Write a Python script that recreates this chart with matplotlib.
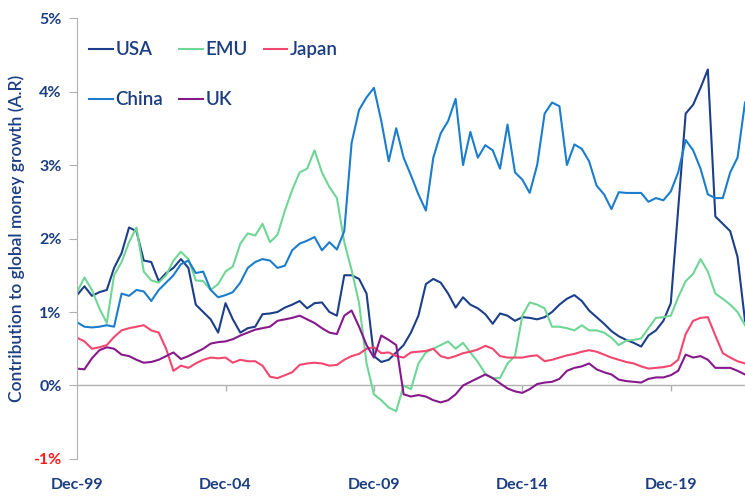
import numpy as np
import pandas as pd
import matplotlib
matplotlib.use("Agg")
import matplotlib.pyplot as plt

# quarterly readings, Dec-99 onwards (% contribution, A.R)
dates = pd.date_range("1999-12-01", periods=91, freq="3MS")

usa = [1.23, 1.35, 1.22, 1.27, 1.30, 1.60, 1.80, 2.15, 2.10, 1.70,
       1.68, 1.42, 1.53, 1.60, 1.72, 1.60, 1.10, 1.00, 0.90, 0.72,
       1.12, 0.90, 0.72, 0.78, 0.80, 0.97, 0.98, 1.00, 1.06, 1.10,
       1.15, 1.05, 1.12, 1.13, 1.00, 0.95, 1.50, 1.50, 1.45, 1.25,
       0.40, 0.32, 0.35, 0.45, 0.55, 0.72, 0.95, 1.38, 1.45, 1.40,
       1.25, 1.06, 1.20, 1.10, 1.05, 0.97, 0.84, 0.98, 0.95, 0.88,
       0.93, 0.92, 0.90, 0.93, 1.00, 1.10, 1.18, 1.23, 1.15, 1.02,
       0.93, 0.84, 0.74, 0.67, 0.62, 0.58, 0.53, 0.68, 0.75, 0.88,
       1.12, 2.40, 3.70, 3.82, 4.05, 4.30, 2.30, 2.20, 2.10, 1.75,
       0.88]
emu = [1.27, 1.47, 1.30, 1.05, 0.85, 1.50, 1.68, 1.95, 2.15, 1.55,
       1.43, 1.40, 1.50, 1.70, 1.82, 1.72, 1.43, 1.42, 1.30, 1.38,
       1.55, 1.62, 1.93, 2.07, 2.04, 2.20, 1.95, 2.05, 2.38, 2.66,
       2.90, 2.95, 3.20, 2.90, 2.70, 2.55, 1.95, 1.57, 1.12, 0.30,
       -0.12, -0.20, -0.30, -0.35, 0.00, -0.05, 0.30, 0.45, 0.50, 0.55,
       0.60, 0.50, 0.58, 0.45, 0.32, 0.16, 0.10, 0.10, 0.30, 0.40,
       0.95, 1.13, 1.10, 1.05, 0.80, 0.80, 0.78, 0.75, 0.82, 0.75,
       0.75, 0.72, 0.65, 0.55, 0.61, 0.62, 0.64, 0.78, 0.92, 0.93,
       0.95, 1.20, 1.42, 1.52, 1.72, 1.55, 1.25, 1.18, 1.10, 1.00,
       0.82]
japan = [0.65, 0.60, 0.50, 0.52, 0.55, 0.66, 0.75, 0.78, 0.80, 0.82,
         0.75, 0.72, 0.50, 0.20, 0.27, 0.24, 0.30, 0.35, 0.38, 0.37,
         0.38, 0.31, 0.35, 0.33, 0.33, 0.27, 0.12, 0.10, 0.14, 0.18,
         0.28, 0.30, 0.31, 0.30, 0.27, 0.28, 0.35, 0.40, 0.43, 0.50,
         0.52, 0.44, 0.45, 0.40, 0.38, 0.45, 0.46, 0.47, 0.50, 0.40,
         0.37, 0.40, 0.44, 0.46, 0.49, 0.54, 0.50, 0.40, 0.38, 0.38,
         0.38, 0.40, 0.41, 0.33, 0.35, 0.38, 0.41, 0.43, 0.46, 0.48,
         0.46, 0.42, 0.38, 0.35, 0.32, 0.30, 0.26, 0.23, 0.24, 0.25,
         0.27, 0.35, 0.70, 0.88, 0.92, 0.93, 0.68, 0.44, 0.38, 0.33,
         0.30]
china = [0.86, 0.80, 0.79, 0.80, 0.82, 0.80, 1.25, 1.22, 1.30, 1.28,
         1.15, 1.30, 1.40, 1.50, 1.65, 1.70, 1.53, 1.55, 1.30, 1.20,
         1.23, 1.27, 1.40, 1.60, 1.68, 1.72, 1.70, 1.60, 1.63, 1.84,
         1.93, 1.97, 2.02, 1.84, 1.95, 1.85, 2.10, 3.30, 3.75, 3.92,
         4.05, 3.60, 3.05, 3.50, 3.10, 2.86, 2.60, 2.38, 3.10, 3.43,
         3.60, 3.90, 3.00, 3.45, 3.10, 3.27, 3.20, 2.95, 3.55, 2.90,
         2.80, 2.62, 3.00, 3.70, 3.85, 3.80, 3.00, 3.28, 3.22, 3.05,
         2.72, 2.60, 2.40, 2.63, 2.62, 2.62, 2.62, 2.50, 2.55, 2.52,
         2.64, 2.90, 3.34, 3.20, 2.95, 2.60, 2.55, 2.55, 2.90, 3.10,
         3.85]
uk = [0.23, 0.22, 0.37, 0.48, 0.52, 0.50, 0.42, 0.40, 0.35, 0.31,
      0.32, 0.35, 0.40, 0.45, 0.36, 0.40, 0.45, 0.50, 0.57, 0.59,
      0.60, 0.63, 0.68, 0.72, 0.76, 0.78, 0.80, 0.88, 0.90, 0.92,
      0.95, 0.90, 0.85, 0.78, 0.72, 0.70, 0.95, 1.02, 0.80, 0.55,
      0.38, 0.68, 0.62, 0.55, -0.12, -0.15, -0.13, -0.15, -0.20, -0.23,
      -0.20, -0.12, 0.00, 0.05, 0.10, 0.15, 0.10, 0.03, -0.04, -0.08,
      -0.10, -0.05, 0.02, 0.04, 0.05, 0.09, 0.20, 0.24, 0.26, 0.30,
      0.22, 0.18, 0.15, 0.08, 0.06, 0.05, 0.04, 0.09, 0.11, 0.11,
      0.14, 0.20, 0.42, 0.38, 0.40, 0.35, 0.24, 0.24, 0.24, 0.20,
      0.15]

tick_dates = pd.to_datetime(["1999-12-01", "2004-12-01", "2009-12-01",
                             "2014-12-01", "2019-12-01"])
tick_labels = ["Dec-99", "Dec-04", "Dec-09", "Dec-14", "Dec-19"]
y_ticks = [-1, 0, 1, 2, 3, 4, 5]

navy = "#1b3d82"
grey = "#b0b0b0"
plt.rcParams["font.family"] = ["Lato", "DejaVu Sans"]

fig = plt.figure(figsize=(7.45, 4.96), dpi=100)
ax = fig.add_axes([0.1034, 0.0746, 0.8966, 0.8891])

# zero line and the little date ticks hanging under it
ax.axhline(0, color=grey, lw=1, zorder=1)
ax.vlines(tick_dates[1:], -0.07, 0, color=grey, lw=1, zorder=1)

l_usa, = ax.plot(dates, usa, color="#1c3f8a", lw=1.5, label="USA")
l_emu, = ax.plot(dates, emu, color="#6fd696", lw=1.5, label="EMU")
l_jap, = ax.plot(dates, japan, color="#f4476f", lw=1.5, label="Japan")
l_chn, = ax.plot(dates, china, color="#1b7dcc", lw=1.5, label="China")
l_uk, = ax.plot(dates, uk, color="#86198c", lw=1.5, label="UK")

ax.set_ylim(-1, 5)
ax.set_xlim(dates[0], dates[-1])
ax.set_yticks(y_ticks)
ax.set_yticklabels([f"{v}%" for v in y_ticks])
for lab in ax.get_yticklabels():
    lab.set_color("#ff1a1a" if lab.get_text().startswith("-") else navy)
    lab.set_fontweight("bold")
    lab.set_fontsize(11.5)
ax.tick_params(axis="y", length=6, color=grey, pad=5)

ax.set_xticks(tick_dates)
ax.set_xticklabels(tick_labels, fontweight="bold", fontsize=11.5, color=navy)
ax.tick_params(axis="x", length=0, pad=14)

for s in ["top", "right", "bottom"]:
    ax.spines[s].set_visible(False)
ax.spines["left"].set_color(grey)

ax.set_ylabel("Contribution to global money growth (A.R)", color=navy,
              fontsize=12.5, labelpad=6, fontweight="semibold")

# legend filled column-wise, so order gives rows USA/EMU/Japan and China/UK
leg = ax.legend([l_usa, l_chn, l_emu, l_uk, l_jap],
                ["USA", "China", "EMU", "UK", "Japan"],
                ncol=3, loc="upper left", bbox_to_anchor=(-0.007, 0.985),
                frameon=False, handlelength=1.25, handletextpad=0.15,
                columnspacing=0.85, labelspacing=1.75,
                prop={"size": 13.5, "weight": "semibold"})
for t in leg.get_texts():
    t.set_color(navy)

fig.savefig("out.png", dpi=100)
